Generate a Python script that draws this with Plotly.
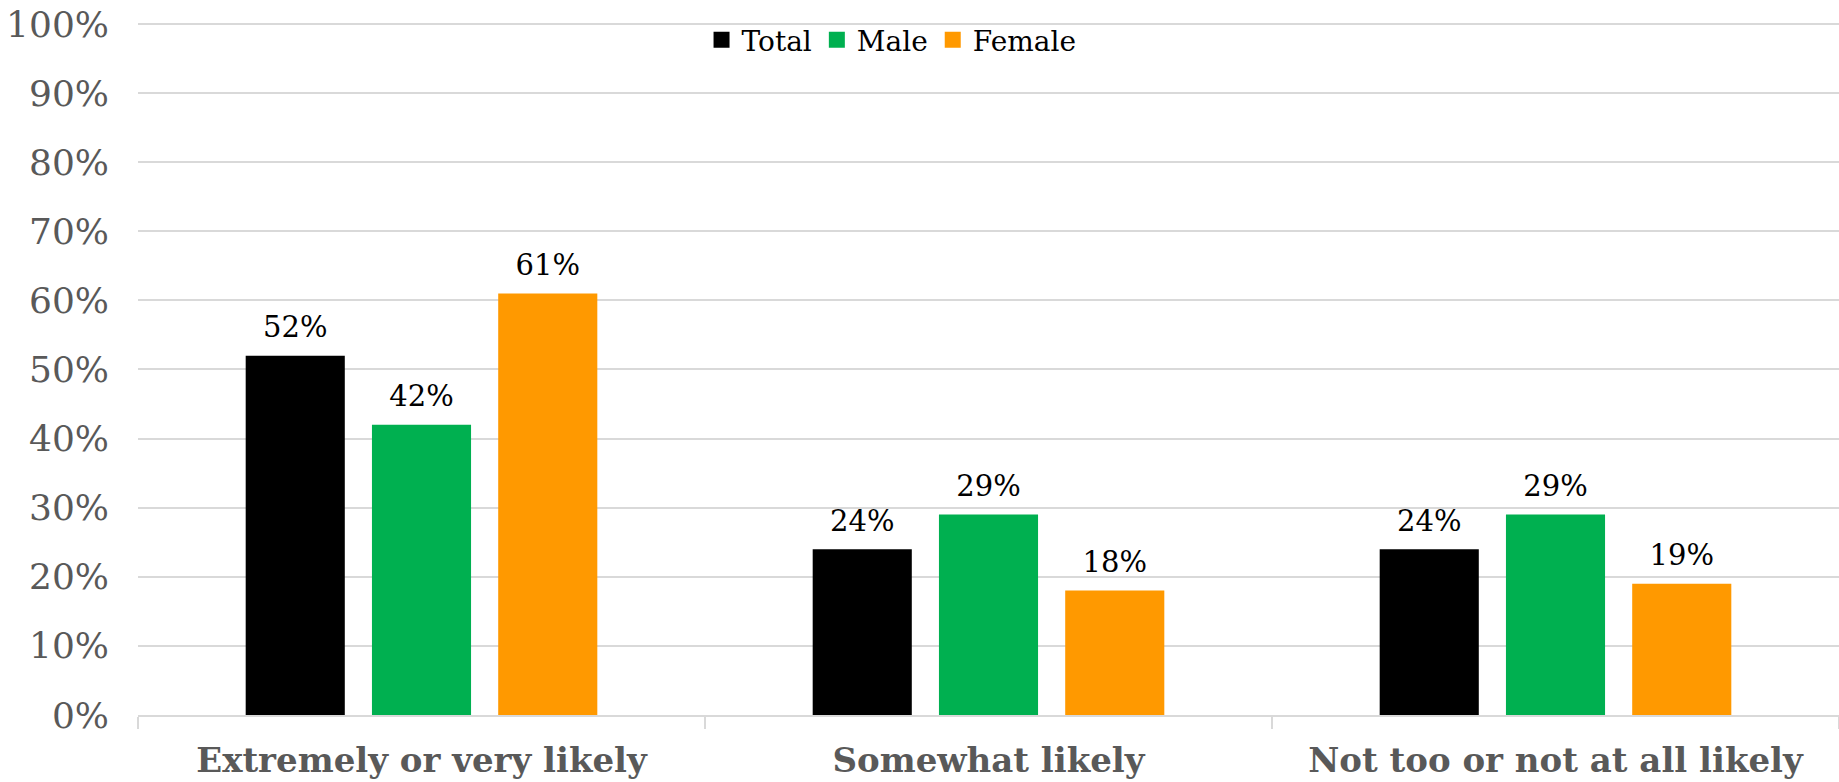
import plotly.graph_objects as go

categories = ["Extremely or very likely", "Somewhat likely", "Not too or not at all likely"]
series_names = ["Total", "Male", "Female"]
total_vals = [52, 24, 24]
male_vals = [42, 29, 29]
female_vals = [61, 18, 19]
colors = ["#000000", "#00B050", "#FF9900"]
y_ticks = [0, 10, 20, 30, 40, 50, 60, 70, 80, 90, 100]

FONT = "DejaVu Serif"
BARGAP = 0.332
fig = go.Figure()
for name, vals, col in zip(series_names, [total_vals, male_vals, female_vals], colors):
    fig.add_trace(go.Bar(
        x=categories, y=vals, name=name, marker=dict(color=col, line=dict(width=0)),
        offsetgroup=name, showlegend=False, hoverinfo="skip",
    ))
# value labels, grouped to sit over their bars
for name, vals in zip(series_names, [total_vals, male_vals, female_vals]):
    fig.add_trace(go.Scatter(
        x=categories, y=vals, mode="markers+text", orientation="v",
        offsetgroup=name, alignmentgroup="labels",
        text=[f"{v}%" for v in vals], textposition="top center",
        textfont=dict(family=FONT, size=29, color="#000000"),
        marker=dict(size=16, color="rgba(0,0,0,0)"),
        cliponaxis=False, showlegend=False, hoverinfo="skip",
    ))
# legend entries
for name, col in zip(series_names, colors):
    fig.add_trace(go.Scatter(
        x=[None], y=[None], mode="markers", name=name, orientation="v",
        offsetgroup=name, alignmentgroup="labels",
        marker=dict(symbol="square", size=17, color=col),
    ))

fig.update_layout(
    width=1839, height=782,
    margin=dict(l=138, r=0, t=17, b=67, autoexpand=False),
    paper_bgcolor="white", plot_bgcolor="white",
    barmode="group", bargap=BARGAP, bargroupgap=0.215,
    scattermode="group", scattergap=BARGAP,
    showlegend=True,
    legend=dict(orientation="h", x=0.443, xanchor="center", y=0.967, yanchor="middle",
                font=dict(family=FONT, size=28, color="#000000"),
                bgcolor="rgba(0,0,0,0)", itemwidth=30),
    font=dict(family=FONT),
)
fig.update_yaxes(
    range=[0, 101], tickvals=y_ticks, ticktext=[f"{v}%" for v in y_ticks],
    showgrid=True, gridcolor="#D9D9D9", gridwidth=2, zeroline=False,
    tickfont=dict(family=FONT, size=36, color="#595959"),
    ticks="", ticklabelstandoff=28, ticklabeloverflow="allow", automargin=False,
)
fig.update_xaxes(
    showline=True, linecolor="#D9D9D9", linewidth=2,
    ticks="outside", tickson="boundaries", ticklen=12, tickcolor="#D9D9D9", tickwidth=2,
    tickfont=dict(family=FONT, size=34, color="#595959", weight="bold"),
    ticklabelstandoff=14, automargin=False,
)

fig.write_html("out.html", config={"displayModeBar": False},
               post_script="document.body.style.margin='0';document.body.style.overflow='hidden';")
